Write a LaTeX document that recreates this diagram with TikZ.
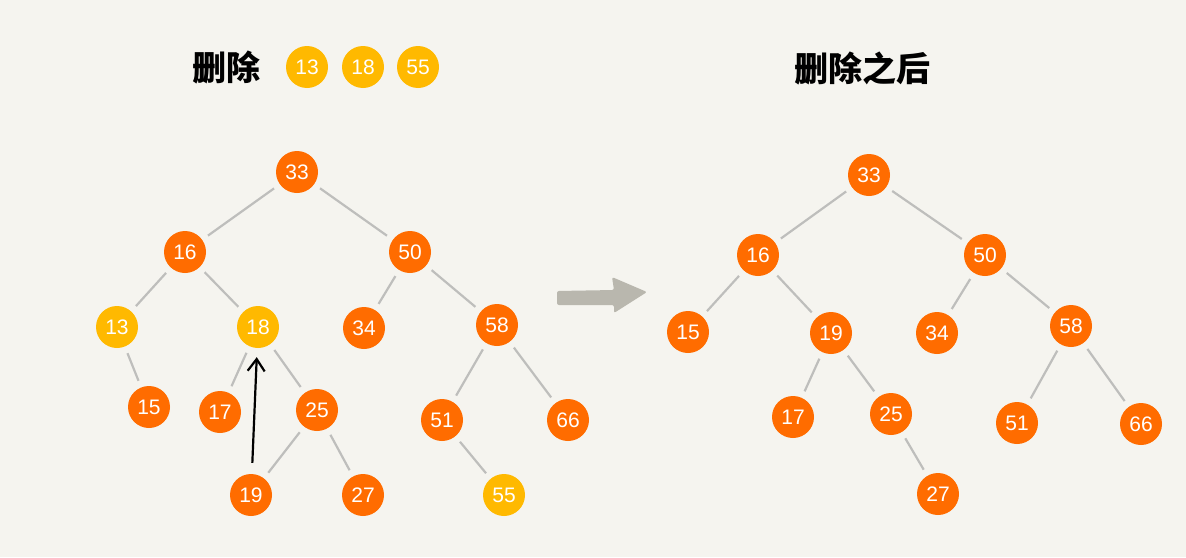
\documentclass[tikz,border=0pt]{standalone}
\usepackage{fontspec}
\setmainfont{Liberation Sans}
\newfontfamily\cjk{Noto Sans CJK SC}
\usetikzlibrary{arrows.meta}
\definecolor{bgc}{RGB}{245,244,239}
\definecolor{orng}{RGB}{255,108,0}
\definecolor{yell}{RGB}{255,185,0}
\definecolor{edgec}{RGB}{190,190,188}
\definecolor{bigarr}{RGB}{185,183,174}
\tikzset{
  nd/.style={circle,fill=orng,minimum size=42pt,inner sep=0pt,text=white,font=\fontsize{21}{21}\selectfont},
  yl/.style={nd,fill=yell},
  ed/.style={draw=edgec,line width=2.2pt,shorten <=7pt,shorten >=7pt},
  ttl/.style={font=\cjk\bfseries\fontsize{34}{34}\selectfont,text=black,inner sep=0pt},
  blk/.style={draw=black,line width=2.2pt,-{Straight Barb[length=12pt,width=17pt,line width=2.2pt]},shorten <=11pt,shorten >=9pt}
}
\begin{document}
\begin{tikzpicture}[x=1pt,y=-1pt]
\fill[bgc] (0,0) rectangle (1186,557);
\useasboundingbox (0,0) rectangle (1186,557);
% titles
\node[ttl] (t1) at (226,68) {删除};
\node[yl] (h13) at (307,67) {13};
\node[yl] (h18) at (363,67) {18};
\node[yl] (h55) at (418,67) {55};
\node[ttl] (t2) at (862,68) {删除之后};
% left tree
\node[nd] (a33) at (297,172) {33};
\node[nd] (a16) at (185,252) {16};
\node[nd] (a50) at (410,252) {50};
\node[yl] (a13) at (117,327) {13};
\node[yl] (a18) at (258,327) {18};
\node[nd] (a34) at (364,328) {34};
\node[nd] (a58) at (497,325) {58};
\node[nd] (a15) at (149,407) {15};
\node[nd] (a17) at (220,412) {17};
\node[nd] (a25) at (317,410) {25};
\node[nd] (a51) at (442,420) {51};
\node[nd] (a66) at (568,420) {66};
\node[nd] (a19) at (251,495) {19};
\node[nd] (a27) at (363,495) {27};
\node[yl] (a55) at (504,495) {55};
\foreach \u/\v in {a33/a16,a33/a50,a16/a13,a16/a18,a50/a34,a50/a58,a13/a15,a18/a17,a18/a25,a25/a19,a25/a27,a58/a51,a58/a66,a51/a55}
  \draw[ed] (\u) -- (\v);
\draw[blk] (a19) -- (a18);
% big arrow
\fill[bigarr,rounded corners=2pt] (557,291) -- (614,290) -- (612,277) -- (647,292) -- (614,313) -- (614,305) -- (557,305) -- cycle;
% right tree
\node[nd] (b33) at (869,175) {33};
\node[nd] (b16) at (758,255) {16};
\node[nd] (b50) at (985,255) {50};
\node[nd] (b15) at (688,332) {15};
\node[nd] (b19) at (831,333) {19};
\node[nd] (b34) at (937,333) {34};
\node[nd] (b58) at (1071,326) {58};
\node[nd] (b17) at (793,417) {17};
\node[nd] (b25) at (891,414) {25};
\node[nd] (b51) at (1017,423) {51};
\node[nd] (b66) at (1141,424) {66};
\node[nd] (b27) at (938,494) {27};
\foreach \u/\v in {b33/b16,b33/b50,b16/b15,b16/b19,b50/b34,b50/b58,b19/b17,b19/b25,b25/b27,b58/b51,b58/b66}
  \draw[ed] (\u) -- (\v);
\end{tikzpicture}
\end{document}
